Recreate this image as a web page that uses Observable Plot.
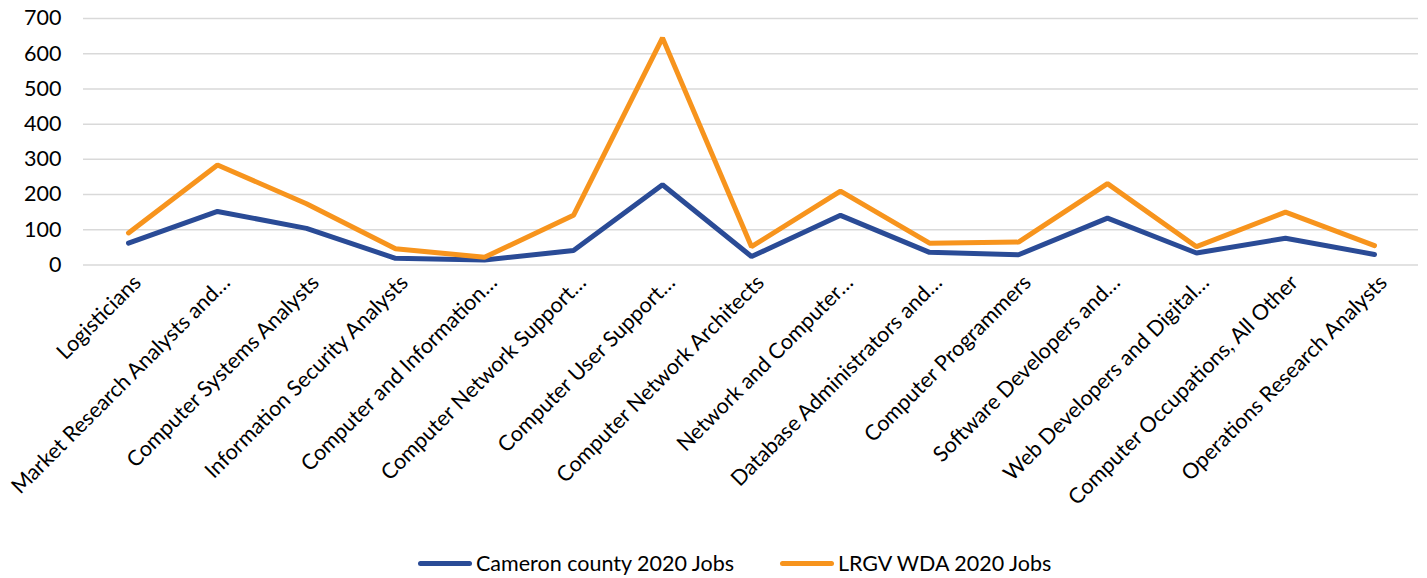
<!DOCTYPE html>
<html>
<head>
<meta charset="utf-8">
<script src="https://cdn.jsdelivr.net/npm/d3@7"></script>
<script src="https://cdn.jsdelivr.net/npm/@observablehq/plot@0.6"></script>
<style>
  html, body { margin: 0; padding: 0; background: #fff; }
  body { width: 1427px; height: 578px; overflow: hidden; font-family: Lato, "Open Sans", sans-serif; }
  #chart svg { display: block; }
  #legend { position: relative; height: 40px; margin-top: 8px; font-size: 21.5px; color: #000; }
  .item { position: absolute; top: 0; display: flex; align-items: center; height: 40px; }
  .sw { width: 54px; height: 5px; border-radius: 3px; margin-right: 4px; }
</style>
</head>
<body>
<div id="chart"></div>
<div id="legend"></div>
<script>
const categories = [
  "Logisticians",
  "Market Research Analysts and…",
  "Computer Systems Analysts",
  "Information Security Analysts",
  "Computer and Information…",
  "Computer Network Support…",
  "Computer User Support…",
  "Computer Network Architects",
  "Network and Computer…",
  "Database Administrators and…",
  "Computer Programmers",
  "Software Developers and…",
  "Web Developers and Digital…",
  "Computer Occupations, All Other",
  "Operations Research Analysts"
];
const cameron = [62, 152, 104, 19, 14, 41, 228, 24, 141, 36, 29, 133, 34, 76, 30];
const lrgv = [91, 284, 174, 46, 22, 141, 645, 52, 210, 62, 65, 231, 52, 150, 55];
const seriesNames = ["Cameron county 2020 Jobs", "LRGV WDA 2020 Jobs"];
const seriesColors = ["#2A4B96", "#F7941D"];
const yTicks = [0, 100, 200, 300, 400, 500, 600, 700];

const rows = [];
categories.forEach((c, i) => {
  rows.push({cat: c, value: cameron[i], series: seriesNames[0]});
  rows.push({cat: c, value: lrgv[i], series: seriesNames[1]});
});

const chart = Plot.plot({
  width: 1427,
  height: 535,
  marginTop: 18,
  marginBottom: 270.5,
  marginLeft: 83,
  marginRight: 9,
  style: {fontFamily: "Lato, 'Open Sans', sans-serif", color: "#000", background: "#fff"},
  x: {type: "point", domain: categories, padding: 0.5},
  y: {domain: [0, 700]},
  color: {domain: seriesNames, range: seriesColors},
  marks: [
    Plot.ruleY(yTicks, {stroke: "#d9d9d9", strokeWidth: 1.5}),
    Plot.axisY({ticks: yTicks, tickSize: 0, tickPadding: 22, fontSize: 21.5, label: null}),
    Plot.axisX({tickSize: 0, tickRotate: -45, tickPadding: 14, dx: 9, fontSize: 21.5, label: null}),
    Plot.line(rows, {x: "cat", y: "value", z: "series", stroke: "series", strokeWidth: 5, strokeLinejoin: "miter", strokeLinecap: "round"})
  ]
});
document.getElementById("chart").appendChild(chart);

const legend = document.getElementById("legend");
const lefts = [418, 780];
seriesNames.forEach((name, i) => {
  const it = document.createElement("div");
  it.className = "item";
  it.style.left = lefts[i] + "px";
  const sw = document.createElement("div");
  sw.className = "sw";
  sw.style.background = seriesColors[i];
  const t = document.createElement("span");
  t.textContent = name;
  it.appendChild(sw);
  it.appendChild(t);
  legend.appendChild(it);
});
</script>
</body>
</html>
